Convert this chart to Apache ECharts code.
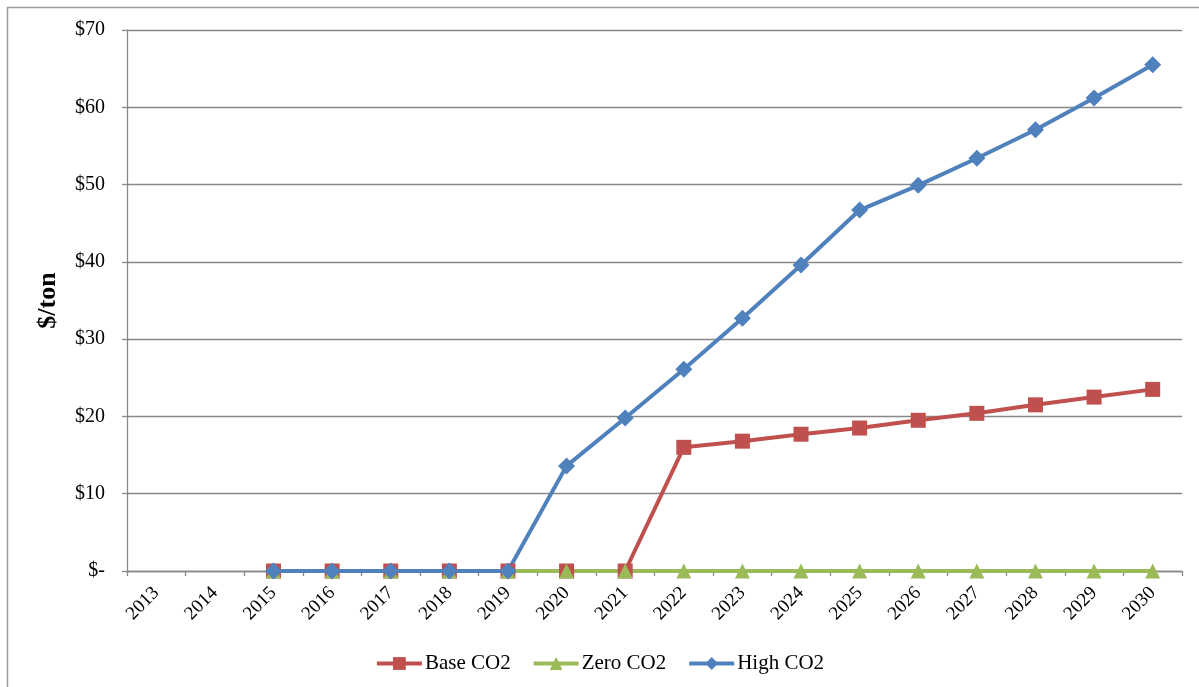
<!DOCTYPE html>
<html>
<head>
<meta charset="utf-8">
<script src="https://cdn.jsdelivr.net/npm/echarts@6/dist/echarts.min.js"></script>
<style>
  html, body { margin: 0; padding: 0; background: #ffffff; }
  #chart { width: 1199px; height: 687px; }
</style>
</head>
<body>
<div id="chart"></div>
<script>
// Years on the category axis
const years = ['2013','2014','2015','2016','2017','2018','2019','2020','2021','2022',
               '2023','2024','2025','2026','2027','2028','2029','2030'];

// CO2 price scenarios, $/ton (null = no value for that year)
const baseCO2 = [null, null, 0, 0, 0, 0, 0, 0, 0, 16.0, 16.8, 17.7, 18.5, 19.5, 20.4, 21.5, 22.5, 23.5];
const zeroCO2 = [null, null, 0, 0, 0, 0, 0, 0, 0, 0, 0, 0, 0, 0, 0, 0, 0, 0];
const highCO2 = [null, null, 0, 0, 0, 0, 0, 13.6, 19.8, 26.1, 32.7, 39.6, 46.7, 49.9, 53.4, 57.1, 61.2, 65.5];

// Value axis ticks
const yTicks = [0, 10, 20, 30, 40, 50, 60, 70];

const FONT = '"Liberation Serif", "Times New Roman", serif';
const AXIS_GRAY = '#888888';

const chart = echarts.init(document.getElementById('chart'), null, { renderer: 'canvas' });

function lineSeries(name, data, color, symbol, size) {
  return {
    name: name,
    type: 'line',
    data: data,
    symbol: symbol,
    symbolSize: size,
    showAllSymbol: true,
    lineStyle: { color: color, width: 4 },
    itemStyle: { color: color },
    connectNulls: false,
    animation: false
  };
}

chart.setOption({
  animation: false,
  textStyle: { fontFamily: FONT },
  graphic: [{
    type: 'rect',
    shape: { x: 7.5, y: 7.5, width: 1300, height: 800 },
    style: { fill: 'none', stroke: '#9a9a9a', lineWidth: 1.5 },
    silent: true
  }],
  grid: { left: 127, right: 17, top: 30, bottom: 116, containLabel: false },
  legend: {
    top: 648,
    left: 'center',
    itemWidth: 45,
    itemHeight: 16,
    itemGap: 21,
    lineStyle: { width: 4 },
    textStyle: { fontFamily: FONT, fontSize: 21, color: '#000', padding: [0, 0, 0, -2] },
    data: ['Base CO2', 'Zero CO2', 'High CO2']
  },
  xAxis: {
    type: 'category',
    data: years,
    boundaryGap: true,
    axisLine: { show: true, lineStyle: { color: AXIS_GRAY, width: 1.3 } },
    axisTick: { show: true, length: 5, lineStyle: { color: AXIS_GRAY, width: 1.3 } },
    axisLabel: {
      rotate: 45,
      interval: 0,
      margin: 19,
      fontFamily: FONT,
      fontSize: 19,
      color: '#000'
    },
    splitLine: { show: false }
  },
  yAxis: {
    type: 'value',
    min: yTicks[0],
    max: yTicks[yTicks.length - 1],
    interval: 10,
    name: '$/ton',
    nameLocation: 'middle',
    nameRotate: 90,
    nameGap: 66,
    nameTextStyle: { fontFamily: FONT, fontSize: 26, fontWeight: 'bold', color: '#000' },
    axisLine: { show: true, lineStyle: { color: AXIS_GRAY, width: 1.3 } },
    axisTick: { show: true, inside: false, length: 5, lineStyle: { color: AXIS_GRAY, width: 1.3 } },
    axisLabel: {
      margin: 22,
      fontFamily: FONT,
      fontSize: 20,
      color: '#000',
      formatter: function (v) { return v === 0 ? '$-' : '$' + v; }
    },
    splitLine: { show: true, lineStyle: { color: AXIS_GRAY, width: 1.3 } }
  },
  series: [
    lineSeries('Base CO2', baseCO2, '#C0504D', 'rect', 15),
    lineSeries('Zero CO2', zeroCO2, '#9BBB59', 'triangle', 15),
    lineSeries('High CO2', highCO2, '#4F81BD', 'diamond', 17)
  ]
});
</script>
</body>
</html>
